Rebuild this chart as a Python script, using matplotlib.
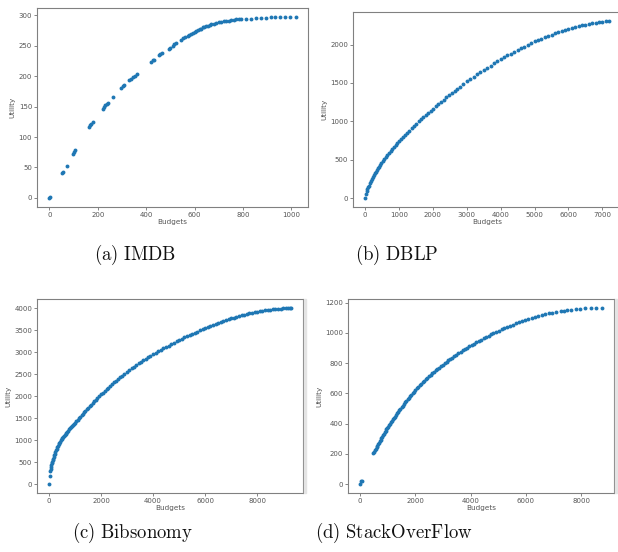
import matplotlib
matplotlib.use("Agg")
import matplotlib.pyplot as plt
from matplotlib.patches import Rectangle

plt.rcParams['mathtext.fontset'] = 'cm'

# ---------------- data ----------------
imdb_budget = [0, 4, 52, 55, 72, 99, 103, 108, 166, 170, 174, 179, 221, 226, 232, 237, 241, 262,
               298, 303, 309, 331, 338, 345, 356, 361, 421, 428, 434, 452, 458, 466, 494, 499,
               510, 517, 524, 545, 552, 559, 572, 579, 586, 593, 600, 607, 614, 621, 628, 634,
               641, 648, 655, 662, 669, 679, 690, 700, 710, 720, 731, 741, 752, 762, 772, 782,
               793, 814, 834, 852, 875, 894, 914, 931, 952, 972, 993, 1018]
imdb_utility = [0, 2, 41, 42, 53, 72, 75, 79, 117, 119, 122, 125, 146, 149, 152, 155, 156, 165,
                181, 183, 185, 193, 195, 198, 201, 203, 223, 226, 227, 235, 237, 238, 245, 246,
                250, 252, 254, 260, 262, 264, 266, 267, 269, 270, 272, 274, 275, 277, 278, 280,
                281, 282, 283, 284, 285, 286, 288, 289, 289, 290, 291, 291, 292, 292, 293, 293,
                293, 294, 294, 295, 296, 296, 297, 297, 297, 297, 297, 297]

dblp_budget = [0, 20, 40, 60, 80, 100, 130, 160, 190, 220, 250, 280, 310, 340, 370, 400, 440, 480,
               520, 560, 600, 650, 700, 750, 800, 850, 900, 950, 1000, 1060, 1120, 1180, 1240,
               1300, 1370, 1440, 1510, 1580, 1650, 1720, 1790, 1860, 1930, 2000, 2080, 2160, 2240,
               2320, 2400, 2480, 2560, 2640, 2720, 2800, 2900, 3000, 3100, 3200, 3300, 3400, 3500,
               3600, 3700, 3800, 3900, 4000, 4100, 4200, 4300, 4400, 4500, 4600, 4700, 4800, 4900,
               5000, 5100, 5200, 5300, 5400, 5500, 5600, 5700, 5800, 5900, 6000, 6100, 6200, 6300,
               6400, 6500, 6600, 6700, 6800, 6900, 7000, 7100, 7200]
dblp_utility = [0, 57, 90, 117, 141, 164, 194, 223, 249, 274, 298, 321, 344, 365, 386, 406, 432, 457,
                482, 506, 530, 558, 586, 613, 639, 665, 691, 715, 740, 769, 797, 825, 852,
                879, 910, 940, 969, 998, 1027, 1056, 1083, 1111, 1138, 1165, 1196, 1225, 1255,
                1284, 1313, 1341, 1370, 1398, 1425, 1453, 1486, 1520, 1550, 1580, 1610, 1640, 1670,
                1698, 1726, 1754, 1782, 1810, 1835, 1859, 1883, 1907, 1930, 1952, 1974, 1996, 2018,
                2040, 2058, 2076, 2094, 2112, 2130, 2144, 2158, 2172, 2186, 2200, 2212, 2224, 2236,
                2248, 2260, 2267, 2274, 2281, 2288, 2295, 2301, 2308]

bib_budget = [0, 25, 45, 60, 75, 90, 105, 120, 140, 160, 180, 200, 220, 245, 270, 295, 320, 346,
              372, 398, 424, 450, 480, 510, 540, 570, 600, 635, 667, 700, 735, 770, 805, 840, 880,
              920, 960, 1000, 1050, 1100, 1150, 1200, 1250, 1300, 1350, 1400, 1450, 1500, 1560,
              1620, 1680, 1740, 1800, 1860, 1930, 2000, 2070, 2140, 2210, 2280, 2350, 2420, 2500,
              2580, 2660, 2740, 2820, 2900, 3000, 3090, 3180, 3270, 3360, 3450, 3540, 3630, 3720,
              3810, 3900, 4000, 4100, 4200, 4300, 4400, 4500, 4600, 4700, 4800, 4900, 5000, 5100,
              5200, 5300, 5400, 5500, 5600, 5700, 5800, 5900, 6000, 6100, 6200, 6300, 6400, 6500,
              6600, 6700, 6800, 6900, 7000, 7100, 7200, 7300, 7400, 7500, 7600, 7700, 7800, 7900,
              8000, 8100, 8200, 8300, 8400, 8500, 8600, 8700, 8800, 8900, 9000, 9100, 9200, 9250,
              9300]
bib_utility = [0, 195, 290, 340, 390, 435, 475, 503, 541, 579, 617, 655, 690, 735, 775, 810, 845, 877,
               907, 937, 969, 1000, 1026, 1050, 1074, 1098, 1120, 1145, 1170, 1194, 1218, 1242, 1266,
               1290, 1318, 1345, 1372, 1400, 1434, 1467, 1500, 1533, 1566, 1599, 1632, 1665, 1698,
               1730, 1768, 1806, 1843, 1880, 1917, 1954, 1997, 2040, 2079, 2117, 2155, 2193, 2230,
               2267, 2310, 2349, 2388, 2427, 2465, 2503, 2550, 2590, 2629, 2668, 2706, 2742, 2777,
               2811, 2845, 2878, 2910, 2945, 2980, 3014, 3048, 3082, 3115, 3147, 3179, 3211, 3243,
               3275, 3303, 3331, 3359, 3387, 3415, 3440, 3465, 3490, 3515, 3540, 3564, 3588, 3612,
               3636, 3660, 3681, 3702, 3723, 3744, 3765, 3782, 3799, 3816, 3833, 3850, 3864, 3878,
               3892, 3906, 3920, 3929, 3938, 3947, 3956, 3965, 3970, 3975, 3980, 3985, 3990, 3995,
               4000, 4002, 4005]

so_budget = [0, 35, 55, 476, 505, 535, 565, 595, 625, 655, 685, 715, 745, 775, 805, 835, 865, 895,
             925, 955, 985, 1015, 1050, 1085, 1120, 1155, 1190, 1225, 1260, 1300, 1340, 1380, 1420,
             1460, 1500, 1545, 1590, 1635, 1680, 1725, 1770, 1815, 1860, 1905, 1950, 2000, 2055,
             2110, 2165, 2220, 2275, 2330, 2385, 2440, 2500, 2560, 2620, 2680, 2740, 2800, 2860,
             2920, 2990, 3060, 3130, 3200, 3270, 3340, 3410, 3480, 3560, 3640, 3720, 3800, 3880,
             3960, 4040, 4120, 4200, 4290, 4380, 4470, 4560, 4650, 4740, 4830, 4920, 5020, 5120,
             5220, 5320, 5420, 5530, 5640, 5750, 5860, 5970, 6090, 6210, 6330, 6450, 6570, 6700,
             6830, 6960, 7100, 7269, 7377, 7496, 7654, 7820, 7978, 8157, 8359, 8539, 8755]
so_utility = [0, 19, 24, 204, 214, 224, 234, 244, 255, 265, 275, 285, 295, 305, 315, 325, 334, 344,
              354, 363, 372, 381, 390, 400, 409, 419, 428, 437, 447, 457, 468, 478, 488,
              498, 508, 519, 530, 541, 551, 562, 572, 582, 592, 602, 612, 622, 633,
              644, 654, 665, 675, 685, 695, 704, 714, 724, 734, 743, 752, 761, 770,
              779, 789, 799, 809, 818, 827, 836, 845, 854, 864, 874, 884, 893, 902,
              911, 920, 929, 938, 947, 956, 965, 974, 982, 990, 998, 1006, 1015, 1023,
              1031, 1039, 1047, 1055, 1063, 1071, 1078, 1085, 1092, 1099, 1106, 1112, 1118, 1124,
              1129, 1134, 1139, 1143, 1147, 1150, 1154, 1157, 1160, 1162, 1163, 1165, 1166]

captions = ["(a)\\ IMDB", "(b)\\ DBLP", "(c)\\ Bibsonomy", "(d)\\ StackOverFlow"]
xticks = [[0, 200, 400, 600, 800, 1000], [0, 1000, 2000, 3000, 4000, 5000, 6000, 7000],
          [0, 2000, 4000, 6000, 8000], [0, 2000, 4000, 6000, 8000]]
yticks = [[0, 50, 100, 150, 200, 250, 300], [0, 500, 1000, 1500, 2000],
          [0, 500, 1000, 1500, 2000, 2500, 3000, 3500, 4000], [0, 200, 400, 600, 800, 1000, 1200]]

series = [(imdb_budget, imdb_utility), (dblp_budget, dblp_utility),
          (bib_budget, bib_utility), (so_budget, so_utility)]

# ---------------- layout ----------------
W, H = 618, 552
fig = plt.figure(figsize=(W / 100, H / 100), dpi=100)

# (left, top, width, height) in pixels
boxes = [(37, 8, 271, 199), (353, 12, 268.3, 195), (37, 299, 266, 194), (348, 299, 266, 194)]
cap_pos = [(135, 255), (397, 255), (132, 533), (394, 533)]

for i, ((x, y), (l, t, w, h)) in enumerate(zip(series, boxes)):
    ax = fig.add_axes([l / W, (H - t - h) / H, w / W, h / H])
    ax.plot(x, y, linestyle='none', marker='o', ms=2.8, mew=0, color='#1f77b4')
    ax.set_xticks(xticks[i])
    ax.set_yticks(yticks[i])
    ax.tick_params(labelsize=5, colors='#555555', length=2, width=0.5, pad=1.5)
    for s in ax.spines.values():
        s.set_color('#808080')
        s.set_linewidth(0.8)
    ax.set_xlabel('Budgets', fontsize=5.2, color='#555555', labelpad=1)
    ax.set_ylabel('Utility', fontsize=5.2, color='#555555', labelpad=2)
    cx, cy = cap_pos[i]
    fig.text(cx / W, (H - cy) / H, r'$\mathrm{' + captions[i] + '}$', fontsize=13.5,
             ha='center', va='center', color='#111111')
    if i >= 2:
        fig.patches.append(Rectangle(((l + w + 0.5) / W, (H - t - h) / H), 2 / W, h / H,
                                     transform=fig.transFigure, color='#e4e4e4', zorder=0))

fig.savefig('out.png', dpi=100)
